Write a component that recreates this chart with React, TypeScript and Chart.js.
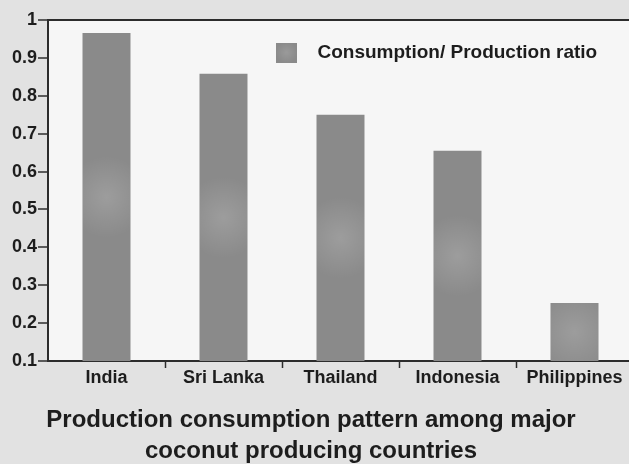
import React, { useEffect, useRef } from 'react';
import { Chart, registerables } from 'chart.js';

Chart.register(...registerables);

const categories = ['India', 'Sri Lanka', 'Thailand', 'Indonesia', 'Philippines'];
const ratioValues = [0.966, 0.858, 0.75, 0.655, 0.253];
const seriesLabel = 'Consumption/ Production ratio';
const titleLines = ['Production consumption pattern among major', 'coconut producing countries'];
const yMin = 0.1;
const yMax = 1;
const yStep = 0.1;

const FONT = "'Liberation Sans', Arial, Helvetica, sans-serif";
const BAR = '#8a8a8a';
const INK = '#1d1d1d';
const AXIS = '#2c2c2c';
const PLOT_BG = '#f6f6f6';
const PAGE_BG = '#e2e2e2';

export default function App() {
  const ref = useRef<HTMLCanvasElement>(null);

  useEffect(() => {
    document.body.style.margin = '0';
    const canvas = ref.current!;

    // legend swatch: 21x20 square with a gap after it
    const sw = document.createElement('canvas');
    sw.width = 32;
    sw.height = 20;
    const sctx = sw.getContext('2d')!;
    sctx.fillStyle = BAR;
    sctx.fillRect(0, 0, 21, 20);
    const sg = sctx.createRadialGradient(10.5, 10, 0, 10.5, 10, 11);
    sg.addColorStop(0, 'rgba(255,255,255,0.14)');
    sg.addColorStop(1, 'rgba(255,255,255,0)');
    sctx.fillStyle = sg;
    sctx.fillRect(0, 0, 21, 20);

    const plotBg = {
      id: 'plotBg',
      beforeDraw(chart: any) {
        const { ctx, chartArea } = chart;
        ctx.save();
        ctx.fillStyle = PLOT_BG;
        ctx.fillRect(chartArea.left, chartArea.top, chartArea.width, chartArea.height);
        ctx.restore();
      },
    };

    const barGlow = {
      id: 'barGlow',
      afterDatasetsDraw(chart: any) {
        const { ctx, chartArea } = chart;
        const meta = chart.getDatasetMeta(0);
        meta.data.forEach((el: any) => {
          const { x, y, base, width } = el.getProps(['x', 'y', 'base', 'width'], true);
          const bottom = Math.min(base, chartArea.bottom);
          const h = bottom - y;
          if (h <= 0) return;
          const cx = x;
          const cy = y + h / 2;
          const r = width * 0.85;
          ctx.save();
          ctx.beginPath();
          ctx.rect(x - width / 2, y, width, h);
          ctx.clip();
          const g = ctx.createRadialGradient(cx, cy, 0, cx, cy, r);
          g.addColorStop(0, 'rgba(255,255,255,0.16)');
          g.addColorStop(1, 'rgba(255,255,255,0)');
          ctx.fillStyle = g;
          ctx.fillRect(x - width / 2, y, width, h);
          ctx.restore();
        });
      },
    };

    const layoutFix = {
      id: 'layoutFix',
      afterLayout(chart: any) {
        const ca = chart.chartArea;
        const lg = chart.legend;
        if (lg) {
          lg.left = ca.left + 218;
          lg.right = ca.right;
          lg.width = lg.right - lg.left;
          lg.top = ca.top + 13;
        }
        const tb = chart.titleBlock;
        if (tb) {
          tb.right = tb.right - 11;
          tb.width = tb.right - tb.left;
        }
      },
    };

    const chart = new Chart(canvas, {
      type: 'bar',
      data: {
        labels: categories,
        datasets: [
          {
            label: seriesLabel,
            data: ratioValues,
            backgroundColor: BAR,
            borderWidth: 0,
            barPercentage: 0.41,
            categoryPercentage: 1,
          },
        ],
      },
      options: {
        responsive: false,
        animation: false,
        layout: { padding: { top: 20, bottom: -3, left: 0, right: 0 } },
        plugins: {
          tooltip: { enabled: false },
          legend: {
            position: 'chartArea',
            align: 'start',
            labels: {
              usePointStyle: true,
              pointStyle: sw,
              pointStyleWidth: 32,
              padding: 10,
              color: INK,
              font: { family: FONT, size: 19, weight: 'bold' },
            },
          },
          title: {
            display: true,
            position: 'bottom',
            text: titleLines,
            color: INK,
            font: { family: FONT, size: 24, weight: 'bold', lineHeight: 31 / 24 },
            padding: { top: 0, bottom: 0 },
          },
        },
        scales: {
          x: {
            offset: true,
            grid: {
              offset: true,
              drawOnChartArea: false,
              drawTicks: true,
              tickLength: 7,
              tickWidth: 1.5,
              tickColor: (c: any) =>
                c.index === 0 || c.index === categories.length ? 'rgba(0,0,0,0)' : AXIS,
            },
            border: { display: true, color: AXIS, width: 2 },
            ticks: {
              color: INK,
              padding: 0,
              maxRotation: 0,
              autoSkip: false,
              font: { family: FONT, size: 18, weight: 'bold', lineHeight: 1.1 },
            },
            afterFit: (s: any) => {
              s.height = 44;
            },
          },
          y: {
            min: yMin,
            max: yMax,
            grid: {
              drawOnChartArea: true,
              drawTicks: true,
              tickLength: 10,
              tickWidth: 1.5,
              lineWidth: 2,
              tickColor: AXIS,
              color: (c: any) => (c.tick && Math.abs(c.tick.value - yMax) < 1e-9 ? AXIS : 'rgba(0,0,0,0)'),
            },
            border: { display: true, color: AXIS, width: 2 },
            ticks: {
              stepSize: yStep,
              color: INK,
              padding: 1,
              font: { family: FONT, size: 18, weight: 'bold' },
              callback: (v: any) => {
                const n = Number(v);
                return Math.abs(n - 1) < 1e-9 ? '1' : n.toFixed(1);
              },
            },
            afterFit: (s: any) => {
              s.width = 48;
            },
          },
        },
      },
      plugins: [plotBg, barGlow, layoutFix],
    } as any);

    return () => {
      chart.destroy();
    };
  }, []);

  return (
    <div style={{ width: 629, height: 464, overflow: 'hidden', background: PAGE_BG }}>
      <canvas ref={ref} width={633} height={464} style={{ display: 'block', width: 633, height: 464 }} />
    </div>
  );
}
